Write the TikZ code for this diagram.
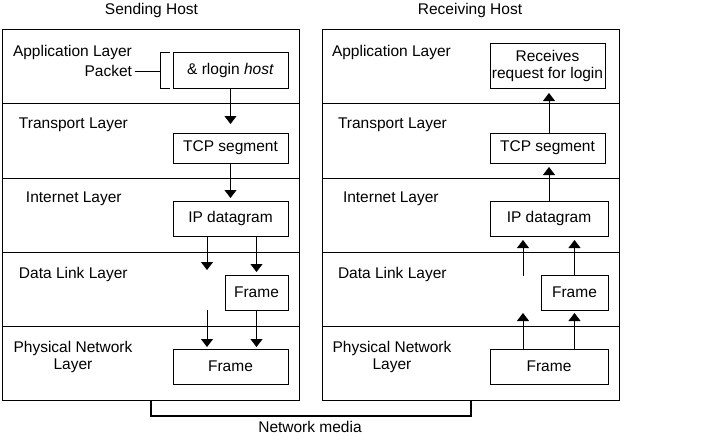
\documentclass[tikz,border=0pt]{standalone}
\usepackage{fontspec}
\setmainfont{Liberation Sans}
\usetikzlibrary{arrows.meta}
\begin{document}
\begin{tikzpicture}[x=1pt,y=-1pt,
  every node/.style={font=\fontsize{15.5}{17}\selectfont, inner sep=0pt, outer sep=0pt},
  thinline/.style={line width=0.9pt},
  pbox/.style={draw, thinline, minimum width=#1, minimum height=35pt},
  host/.style={draw, thinline, minimum width=297pt, minimum height=371pt},
  arr/.style={thinline, -{Triangle[width=12pt,length=8pt]}, shorten >=3pt},
  lbl/.style={anchor=west},
  media/.style={line width=2.6pt}
]
\useasboundingbox (0,0) rectangle (713,442);
% titles
\node (tS) at (151.5,10) {Sending Host};
\node (tR) at (470,10) {Receiving Host};
% hosts
\node[host] (LH) at (151,214.5) {};
\node[host] (RH) at (470.5,214.5) {};
\foreach \yy in {103,178,252,326} {
  \draw[thinline] (LH.west |- 0,\yy) -- (LH.east |- 0,\yy);
  \draw[thinline] (RH.west |- 0,\yy) -- (RH.east |- 0,\yy);
}
% left labels
\node[lbl] (la) at (13,52) {Application Layer};
\node[anchor=east] (lpk) at (132,71) {Packet};
\node[lbl] (lt) at (19,125) {Transport Layer};
\node[lbl] (li) at (26,199) {Internet Layer};
\node[lbl] (ld) at (19,274) {Data Link Layer};
\node[align=center] (lp) at (73,356.5) {Physical Network\\Layer};
% right labels
\node[lbl] (ra) at (332,52) {Application Layer};
\node[lbl] (rt) at (338,125) {Transport Layer};
\node[lbl] (ri) at (343,199) {Internet Layer};
\node[lbl] (rd) at (338,274) {Data Link Layer};
\node[align=center] (rp) at (392,356.5) {Physical Network\\Layer};
% left boxes
\node[pbox=115pt, minimum height=36pt] (lrl) at (230.5,70) {\& rlogin \textit{host}};
\node[pbox=115pt, minimum height=30pt] (ltcp) at (230.5,148) {TCP segment};
\node[pbox=115pt] (lip) at (230.5,218.5) {IP datagram};
\node[pbox=63pt] (lfd) at (256.5,292.5) {Frame};
\node[pbox=115pt] (lfp) at (230.5,366.5) {Frame};
% right boxes
\node[pbox=115pt, minimum height=45pt, align=center] (rrc) at (547.5,65.5) {Receives\\request for login};
\node[pbox=115pt, minimum height=30pt] (rtcp) at (547.5,148) {TCP segment};
\node[pbox=118pt] (rip) at (549,218.5) {IP datagram};
\node[pbox=67pt] (rfd) at (574.5,292.5) {Frame};
\node[pbox=118pt] (rfp) at (549,366.5) {Frame};
% packet bracket
\coordinate (bk) at (160,71);
\draw[thinline] (lpk.east) ++(3pt,0) -- (bk);
\draw[thinline] (170,52) -- (160,52) -- (160,88) -- (170,88);
% left arrows
\draw[arr, shorten >=9pt] (lrl.south) -- (ltcp.north);
\draw[arr] (ltcp.south) -- (lip.north);
\coordinate (lfree1) at (207,273);
\coordinate (lfree2) at (207,310);
\draw[arr] (lip.south -| lfree1) -- (lfree1);
\draw[arr] (lip.south -| lfd.north) -- (lfd.north);
\draw[arr, shorten >=2pt] (lfree2) -- (lfp.north -| lfree2);
\draw[arr, shorten >=2pt] (lfd.south) -- (lfp.north -| lfd.south);
% right arrows
\draw[arr, shorten >=5pt] (rtcp.north -| rip.north) -- (rrc.south -| rip.north);
\draw[arr, shorten >=4pt] (rip.north) -- (rtcp.south -| rip.north);
\coordinate (rfree1) at (523,276);
\draw[arr, shorten >=4pt] (rfree1) -- (rip.south -| rfree1);
\draw[arr, shorten >=4pt] (rfd.north) -- (rip.south -| rfd.north);
\draw[arr] (rfp.north -| rfree1) -- (rfd.south -| rfree1);
\draw[arr] (rfp.north -| rfd.south) -- (rfd.south);
% network media
\coordinate (m1) at (151,416);
\coordinate (m2) at (471,416);
\draw[media] (LH.south -| m1) -- (m1) -- (m2) -- (RH.south -| m2);
\node (nm) at (310,427) {Network media};
\end{tikzpicture}
\end{document}
